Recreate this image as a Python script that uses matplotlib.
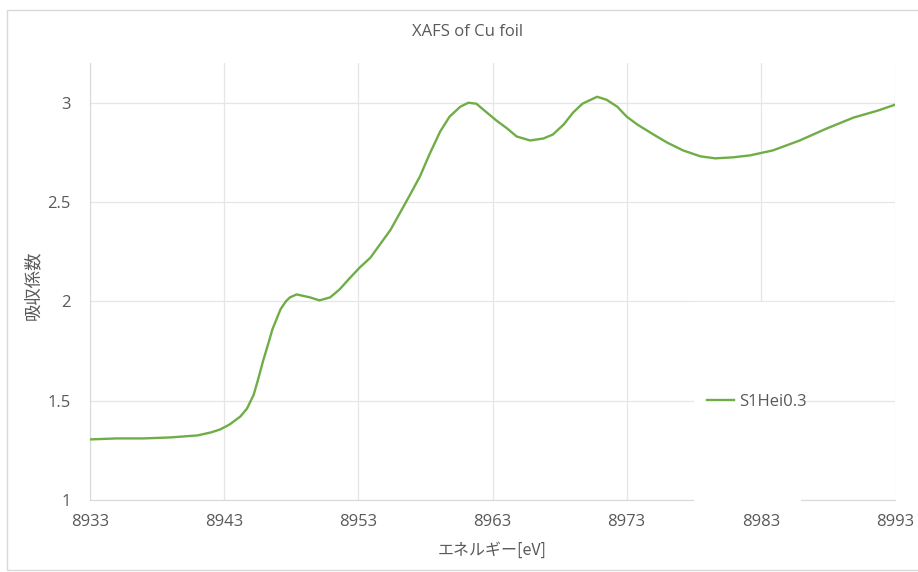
import matplotlib.pyplot as plt
from matplotlib.patches import Rectangle

plt.rcParams['font.family'] = ['Open Sans', 'Noto Sans CJK JP', 'DejaVu Sans']

# energy (eV) and absorption coefficient
energy = [8933.0, 8935.0, 8937.0, 8939.0, 8941.0, 8942.0, 8942.7, 8943.4, 8944.2,
          8944.7, 8945.2, 8945.5, 8945.9, 8946.3, 8946.6, 8947.2, 8947.6, 8947.9,
          8948.4, 8949.4, 8950.1, 8950.9, 8951.6,
          8952.4, 8953.1, 8953.9, 8955.4, 8956.8, 8957.6, 8958.3, 8959.1, 8959.8,
          8960.6, 8961.2, 8961.8, 8962.5, 8963.3, 8964.1, 8964.8, 8965.8, 8966.8,
          8967.5, 8968.3, 8969.0, 8969.7, 8970.8, 8971.5, 8972.3, 8973.0, 8973.8,
          8975.0, 8976.0, 8977.2, 8978.5, 8979.6, 8980.9, 8982.2, 8983.9, 8985.9,
          8987.9, 8989.9, 8991.7, 8993.0]
mu = [1.305, 1.31, 1.31, 1.315, 1.325, 1.34, 1.355, 1.38, 1.42,
      1.46, 1.53, 1.60, 1.70, 1.79, 1.86, 1.96, 2.0, 2.02,
      2.035, 2.02, 2.005, 2.02, 2.06,
      2.12, 2.17, 2.22, 2.36, 2.53, 2.63, 2.74, 2.855, 2.93,
      2.98, 3.0, 2.995, 2.955, 2.91, 2.87, 2.83, 2.81, 2.82,
      2.84, 2.89, 2.95, 2.995, 3.03, 3.015, 2.98, 2.93, 2.89,
      2.84, 2.80, 2.76, 2.73, 2.72, 2.725, 2.735, 2.76, 2.81,
      2.87, 2.925, 2.96, 2.99]
series_name = 'S1Hei0.3'
x_ticks = [8933, 8943, 8953, 8963, 8973, 8983, 8993]
y_ticks = [1, 1.5, 2, 2.5, 3]

grid_c = '#e6e6e6'
axis_c = '#d9d9d9'
text_c = '#595959'

fig = plt.figure(figsize=(9.18, 5.72), dpi=100)
W, H = 918, 572
ax = fig.add_axes([90 / W, (H - 500) / H, (895 - 90) / W, (500 - 63) / H])

# chart border
fig.patches.append(Rectangle((7 / W, 2 / H), 1.0, (H - 12) / H, transform=fig.transFigure,
                             fill=False, edgecolor='#d9d9d9', linewidth=1))

ax.plot(energy, mu, color='#70ad47', linewidth=1.7, zorder=4, label=series_name)
ax.set_xlim(8933, 8993)
ax.set_ylim(1, 3.2)
ax.set_xticks(x_ticks)
ax.set_yticks(y_ticks)
ax.set_yticklabels(['1', '1.5', '2', '2.5', '3'])
ax.grid(True, color=grid_c, linewidth=0.9)
ax.set_axisbelow(True)
ax.tick_params(length=0, labelsize=12, colors=text_c, pad=10)
ax.tick_params(axis='y', pad=14)
for s in ['top', 'right']:
    ax.spines[s].set_visible(False)
for s in ['left', 'bottom']:
    ax.spines[s].set_color(axis_c)

# white legend area covering grid
ax.add_patch(Rectangle((0.750, -0.01), 0.133, 0.463, transform=ax.transAxes,
                       facecolor='white', edgecolor='none', zorder=3, clip_on=False))
leg = ax.legend(loc='center left', bbox_to_anchor=(0.748, 0.225), frameon=False,
                handlelength=1.6, handletextpad=0.3, fontsize=12)
for t in leg.get_texts():
    t.set_color(text_c)
leg.set_zorder(5)

fig.text(468 / W, 1 - 32 / H, 'XAFS of Cu foil', ha='center', va='center',
         fontsize=12, color=text_c)
fig.text(33 / W, 1 - 285 / H, '吸収係数', rotation=90, ha='center', va='center',
         fontsize=12.5, color=text_c, family=['Noto Sans CJK JP', 'DejaVu Sans'])
fig.text(492 / W, 1 - 550 / H, 'エネルギー[eV]', ha='center', va='center',
         fontsize=11.5, color=text_c, family=['Noto Sans CJK JP', 'DejaVu Sans'])

fig.savefig('out.png', dpi=100, facecolor='white')
